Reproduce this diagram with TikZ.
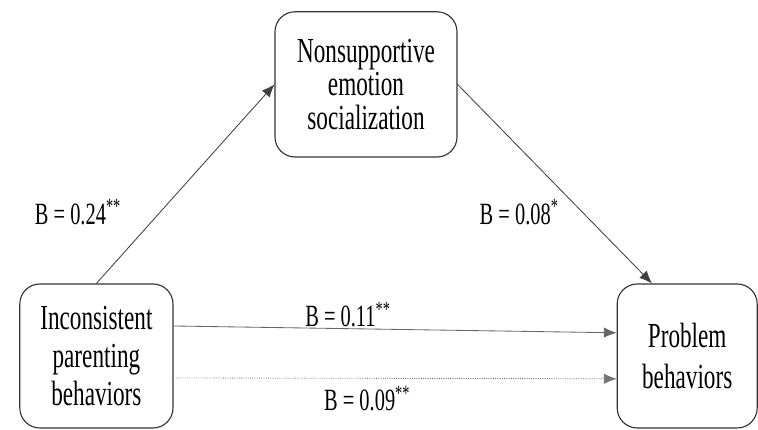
\documentclass[tikz,border=0pt]{standalone}
\usepackage{fontspec}
\setmainfont[FakeStretch=0.66]{Liberation Serif}
\usetikzlibrary{arrows.meta, positioning}

\begin{document}
\begin{tikzpicture}[>={Latex[length=0.32cm, width=0.26cm]},
  box/.style={draw=black!80, line width=0.8pt, rounded corners=0.5cm, align=center, font=\fontsize{25}{24}\selectfont},
  coef/.style={font=\fontsize{22}{24}\selectfont},
  effect/.style={->, draw=black!75, line width=0.6pt}]
\useasboundingbox (0,0) rectangle (18.95,10.75);

% --- variables ---
\node[box, minimum width=3.83cm, minimum height=3.6cm, font=\fontsize{25}{27}\selectfont] (parent) at (2.41, 1.85) {Inconsistent\\parenting\\behaviors};
\node[box, minimum width=4.55cm, minimum height=3.63cm] (emotion) at (9.15, 8.64) {Nonsupportive\\emotion\\socialization};
\node[box, minimum width=3.5cm, minimum height=3.6cm, font=\fontsize{25}{28.5}\selectfont] (problem) at (17.18, 1.85) {Problem\\behaviors};

% --- paths a and b ---
\draw[effect] (parent.north) -- (emotion.west);
\draw[effect] (emotion.east) -- ([xshift=-0.88cm]problem.north);
\node[coef] (pa) at (1.95, 5.45) {B = 0.24\textsuperscript{**}};
\node[coef] (pb) at (12.98, 5.45) {B = 0.08\textsuperscript{*}};

% --- direct paths ---
\draw[effect, draw=black!60] ([yshift=0.75cm]parent.east) -- ([yshift=0.58cm]problem.west);
\draw[effect, draw=black!55, densely dotted] ([yshift=-0.55cm]parent.east) -- ([yshift=-0.57cm]problem.west);
\node[coef] (pc) at (8.7, 2.88) {B = 0.11\textsuperscript{**}};
\node[coef] (pd) at (9.18, 0.78) {B = 0.09\textsuperscript{**}};

\end{tikzpicture}
\end{document}
